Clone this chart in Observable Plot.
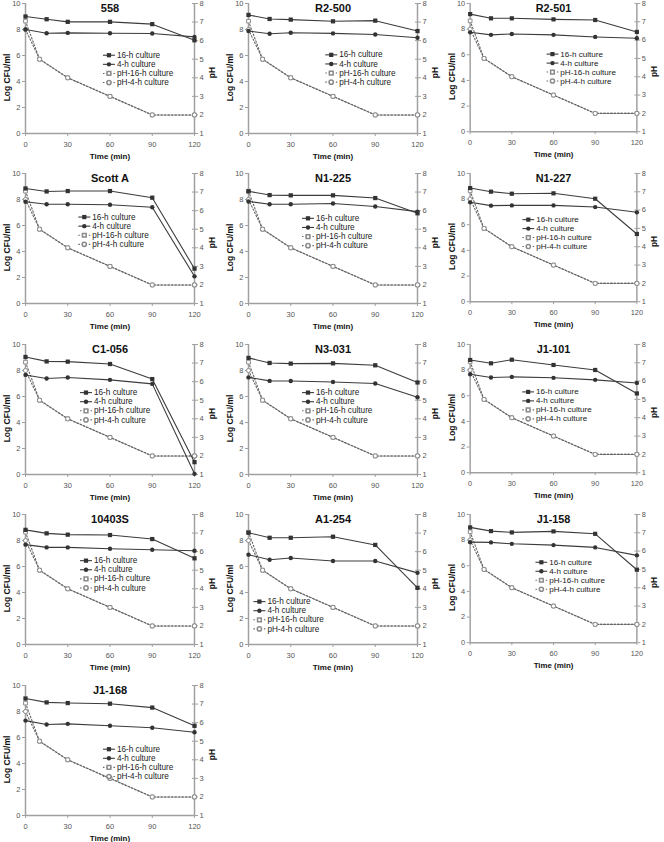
<!DOCTYPE html>
<html><head><meta charset="utf-8">
<script src="https://cdn.jsdelivr.net/npm/d3@7"></script>
<script src="https://cdn.jsdelivr.net/npm/@observablehq/plot@0.6"></script>
<style>
html,body{margin:0;padding:0;background:#fff;overflow:hidden;}
#grid{position:relative;width:664px;height:842px;}
.panel{position:absolute;}
</style></head><body><div id="grid"></div>
<script>
// ---- data ----
const strains = ["558","R2-500","R2-501","Scott A","N1-225","N1-227","C1-056","N3-031","J1-101","10403S","A1-254","J1-158","J1-168"];
const times = [0, 15, 30, 60, 90, 120];
const phTimes = [0, 10, 30, 60, 90, 120];
const ph16 = [7.05, 5.0, 4.0, 3.0, 2.0, 2.0];
const ph4 = [6.6, 5.0, 4.0, 3.0, 2.0, 2.0];
const culture16 = [
  [9.00, 8.79, 8.59, 8.59, 8.41, 7.17],
  [9.12, 8.81, 8.76, 8.63, 8.68, 7.88],
  [9.17, 8.84, 8.84, 8.76, 8.71, 7.78],
  [8.85, 8.62, 8.65, 8.65, 8.14, 2.68],
  [8.63, 8.34, 8.32, 8.32, 8.11, 6.94],
  [8.86, 8.58, 8.42, 8.45, 8.03, 5.28],
  [9.04, 8.70, 8.68, 8.50, 7.34, 0.95],
  [8.97, 8.58, 8.53, 8.55, 8.40, 7.08],
  [8.79, 8.53, 8.81, 8.40, 8.01, 6.18],
  [8.82, 8.55, 8.45, 8.42, 8.11, 6.63],
  [8.60, 8.21, 8.21, 8.29, 7.66, 4.36],
  [8.99, 8.70, 8.60, 8.68, 8.49, 5.69],
  [9.00, 8.70, 8.65, 8.60, 8.30, 6.90]
];
const culture4 = [
  [8.00, 7.71, 7.74, 7.71, 7.69, 7.43],
  [7.88, 7.67, 7.75, 7.70, 7.62, 7.36],
  [7.75, 7.55, 7.62, 7.55, 7.39, 7.29],
  [7.83, 7.63, 7.63, 7.60, 7.40, 2.09],
  [7.85, 7.64, 7.64, 7.69, 7.46, 7.07],
  [7.75, 7.49, 7.51, 7.51, 7.38, 6.97],
  [7.66, 7.38, 7.46, 7.28, 6.97, 0.05],
  [7.47, 7.20, 7.19, 7.11, 7.00, 5.94],
  [7.68, 7.42, 7.47, 7.40, 7.24, 7.00],
  [7.68, 7.47, 7.47, 7.37, 7.29, 7.21],
  [6.91, 6.52, 6.65, 6.42, 6.42, 5.51],
  [7.84, 7.82, 7.71, 7.61, 7.43, 6.81],
  [7.30, 7.00, 7.05, 6.90, 6.75, 6.40]
];
const legendLabels = ["16-h culture", "4-h culture", "pH-16-h culture", "pH-4-h culture"];
const timeTicks = [0, 30, 60, 90, 120];
const logTicks = [0, 2, 4, 6, 8, 10];
const phTicks = [1, 2, 3, 4, 5, 6, 7, 8];

// ---- layout (not data) ----
const legendAt = [[55,6.02],[54.5,6.05],[55,6.05],[37.5,6.65],[38,6.55],[37.6,6.4],[38.7,6.3],[38,6.3],[37.5,6.3],[38.7,6.45],[3.5,3.3],[47,6.27],[55,5.1]];
const colLeft = [0, 223, 445];
const rowStep = 170.5;
const FONT = "'Liberation Sans', Arial, Helvetica, sans-serif";
const AX = "#a0a0a0", TXT = "#555", LINE = "#3c3c3c", PHC = "#666", MK = "#8a8a8a";
const toL = ph => (ph - 1) * 10 / 7;
const fromL = v => Math.round(v * 0.7 + 1);

function makePanel(i) {
  const c16 = times.map((t, j) => ({t, v: culture16[i][j]}));
  const c4 = times.map((t, j) => ({t, v: culture4[i][j]}));
  const p16 = phTimes.map((t, j) => ({t, v: toL(ph16[j])}));
  const p4 = phTimes.map((t, j) => ({t, v: toL(ph4[j])}));
  const [lx, ly] = legendAt[i];
  const leg = legendLabels.map((label, k) => ({label, k, y: ly - k * 0.7}));
  const segLen = 8.5;
  const legSolid = leg.filter(d => d.k < 2), legDash = leg.filter(d => d.k >= 2);
  return Plot.plot({
    width: 222, height: 163,
    marginLeft: 25, marginRight: 28, marginTop: 3, marginBottom: 30,
    x: {domain: [0, 120], axis: null},
    y: {domain: [0, 10], axis: null},
    style: {fontFamily: FONT, background: "transparent", overflow: "visible"},
    marks: [
      Plot.ruleX([0, 120], {stroke: AX, strokeWidth: 1.5}),
      Plot.ruleY([0], {stroke: AX, strokeWidth: 1.5}),
      Plot.axisX(timeTicks, {tickSize: 3, tickPadding: 5, fontSize: 7.5, fill: TXT, stroke: AX, label: null}),
      Plot.axisY(logTicks, {anchor: "left", tickSize: 3, tickPadding: 2, fontSize: 7.5, fill: TXT, stroke: AX, label: null}),
      Plot.axisY(phTicks.map(toL), {anchor: "right", tickSize: 3, tickPadding: 2, fontSize: 7.5, fill: TXT, stroke: AX, label: null, tickFormat: fromL}),
      Plot.axisY(phTicks.map(toL), {anchor: "right", tickSize: -3, tickPadding: 0, fontSize: 1, fill: "none", stroke: AX, label: null, tickFormat: () => ""}),
      Plot.text(["Log CFU/ml"], {frameAnchor: "left", dx: -18, dy: 9, rotate: -90, textAnchor: "middle", lineAnchor: "middle", fontWeight: "bold", fontSize: 8.5, fill: "#111"}),
      Plot.text(["pH"], {frameAnchor: "right", dx: 18, dy: 4, rotate: -90, textAnchor: "middle", lineAnchor: "middle", fontWeight: "bold", fontSize: 8.5, fill: "#111"}),
      Plot.text(["Time (min)"], {frameAnchor: "bottom", dy: 23, textAnchor: "middle", lineAnchor: "middle", fontWeight: "bold", fontSize: 8, fill: "#111"}),
      Plot.text([strains[i]], {frameAnchor: "top", dy: 5, textAnchor: "middle", lineAnchor: "middle", fontWeight: "bold", fontSize: 11, fill: "#111"}),
      // pH series
      Plot.line(p16, {x: "t", y: "v", stroke: PHC, strokeWidth: 1.1, strokeDasharray: "1.5,2"}),
      Plot.line(p4, {x: "t", y: "v", stroke: PHC, strokeWidth: 1.1, strokeDasharray: "1.5,2"}),
      Plot.dot(p16, {x: "t", y: "v", symbol: "square", r: 2.1, fill: "white", stroke: MK, strokeWidth: 1}),
      Plot.dot(p4, {x: "t", y: "v", symbol: "circle", r: 2.1, fill: "white", stroke: MK, strokeWidth: 1}),
      // cultures
      Plot.line(c16, {x: "t", y: "v", stroke: LINE, strokeWidth: 1.1}),
      Plot.line(c4, {x: "t", y: "v", stroke: LINE, strokeWidth: 1.1}),
      Plot.dot(c16, {x: "t", y: "v", symbol: "square", r: 2.4, fill: "#333", stroke: "none"}),
      Plot.dot(c4, {x: "t", y: "v", symbol: "circle", r: 2.2, fill: "#333", stroke: "none"}),
      // legend
      Plot.link(legSolid, {x1: lx, x2: lx + segLen, y1: "y", y2: "y", stroke: LINE, strokeWidth: 1.1}),
      Plot.link(legDash, {x1: lx, x2: lx + segLen, y1: "y", y2: "y", stroke: PHC, strokeWidth: 1.1, strokeDasharray: "1.5,2"}),
      Plot.dot(leg.filter(d => d.k === 0), {x: lx + segLen / 2, y: "y", symbol: "square", r: 2.4, fill: "#333"}),
      Plot.dot(leg.filter(d => d.k === 1), {x: lx + segLen / 2, y: "y", symbol: "circle", r: 2.2, fill: "#333"}),
      Plot.dot(leg.filter(d => d.k === 2), {x: lx + segLen / 2, y: "y", symbol: "square", r: 2.1, fill: "white", stroke: MK}),
      Plot.dot(leg.filter(d => d.k === 3), {x: lx + segLen / 2, y: "y", symbol: "circle", r: 2.1, fill: "white", stroke: MK}),
      Plot.text(leg, {x: lx + segLen, y: "y", text: "label", dx: 2, textAnchor: "start", lineAnchor: "middle", fontSize: 8.2, fill: "#222"})
    ]
  });
}

const grid = document.getElementById("grid");
strains.forEach((s, i) => {
  const div = document.createElement("div");
  div.className = "panel";
  div.style.left = colLeft[i % 3] + "px";
  div.style.top = (Math.floor(i / 3) * rowStep - 0.3) + "px";
  div.appendChild(makePanel(i));
  grid.appendChild(div);
});
</script></body></html>
